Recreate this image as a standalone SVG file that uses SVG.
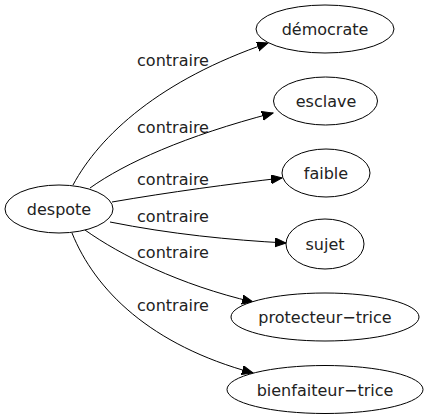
<svg xmlns="http://www.w3.org/2000/svg" width="428" height="419" viewBox="0 0 428 419">
<defs>
<style>
.node ellipse{fill:#fff;stroke:#000;stroke-width:1}
.node text{font-family:"DejaVu Sans",sans-serif;font-size:16px;fill:#222;text-anchor:middle}
.edges path{fill:none;stroke:#000;stroke-width:1}
.edges text{font-family:"DejaVu Sans",sans-serif;font-size:16px;fill:#222;text-anchor:middle}
</style>
<marker id="arr" markerUnits="userSpaceOnUse" markerWidth="12" markerHeight="10" refX="11" refY="4.5" orient="auto">
<path d="M0,0 L11,4.5 L0,9 Z" fill="#000" stroke="#000" stroke-width="1"/>
</marker>
</defs>
<rect width="428" height="419" fill="#fff"/>
<g id="edges" class="edges">
<path d="M73,185 C100,135 160,80 268,43" marker-end="url(#arr)"/>
<text x="173" y="66">contraire</text>
<path d="M90,188 C125,163 185,136 273,113" marker-end="url(#arr)"/>
<text x="173" y="133">contraire</text>
<path d="M112,202 C170,192 230,184 282,178" marker-end="url(#arr)"/>
<text x="173" y="185">contraire</text>
<path d="M110,222 C170,234 230,240 286,243" marker-end="url(#arr)"/>
<text x="173" y="222">contraire</text>
<path d="M85,230 C120,255 180,285 253,302" marker-end="url(#arr)"/>
<text x="173" y="258">contraire</text>
<path d="M72,233 C95,290 150,345 253,373" marker-end="url(#arr)"/>
<text x="173" y="311">contraire</text>
</g>
<g id="despote" class="node"><ellipse cx="59" cy="209" rx="54" ry="24"/><text x="59" y="215">despote</text></g>
<g id="democrate" class="node"><ellipse cx="325" cy="29" rx="69" ry="24"/><text x="325" y="35">démocrate</text></g>
<g id="esclave" class="node"><ellipse cx="325.5" cy="101" rx="52" ry="24"/><text x="326" y="107">esclave</text></g>
<g id="faible" class="node"><ellipse cx="326" cy="173" rx="44" ry="24"/><text x="326" y="179">faible</text></g>
<g id="sujet" class="node"><ellipse cx="325" cy="244" rx="39" ry="25"/><text x="325" y="250">sujet</text></g>
<g id="protecteur-trice" class="node"><ellipse cx="325" cy="317" rx="94" ry="24"/><text x="325" y="323">protecteur−trice</text></g>
<g id="bienfaiteur-trice" class="node"><ellipse cx="325" cy="389.5" rx="98" ry="24"/><text x="325" y="395.5">bienfaiteur−trice</text></g>
</svg>
